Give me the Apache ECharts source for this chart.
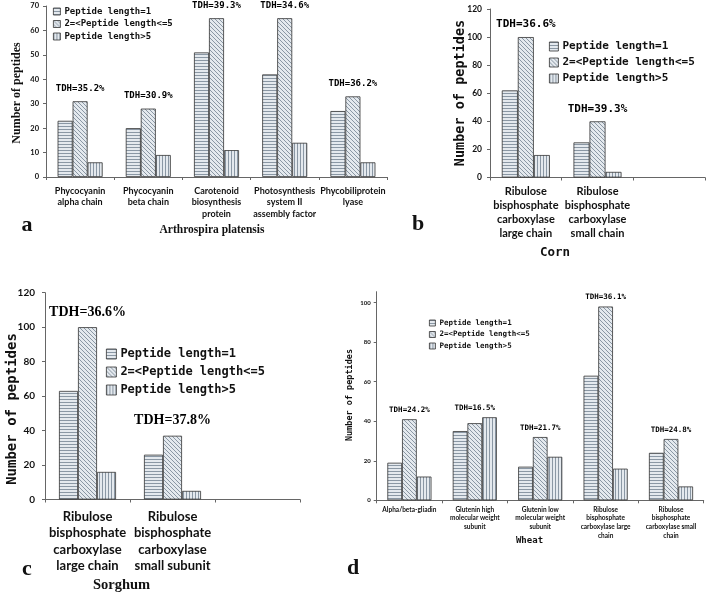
<!DOCTYPE html>
<html><head><meta charset="utf-8">
<script src="https://cdn.jsdelivr.net/npm/echarts@6/dist/echarts.min.js"></script>
<style>html,body{margin:0;padding:0;background:#fff}#c{width:708px;height:596px}</style>
</head><body><div id="c"></div><script>
// ---------- data ----------
const seriesNames = ['Peptide length=1', '2=<Peptide length<=5', 'Peptide length>5'];

const catsA = ['Phycocyanin\nalpha chain', 'Phycocyanin\nbeta chain', 'Carotenoid\nbiosynthesis\nprotein', 'Photosynthesis\nsystem II\nassembly factor', 'Phycobiliprotein\nlyase'];
const a1 = [23, 20, 51, 42, 27];
const a2 = [31, 28, 65, 65, 33];
const a3 = [6, 9, 11, 14, 6];
const tdhA = ['TDH=35.2%', 'TDH=30.9%', 'TDH=39.3%', 'TDH=34.6%', 'TDH=36.2%'];
const ticksA = [0, 10, 20, 30, 40, 50, 60, 70];

const catsB = ['Ribulose\nbisphosphate\ncarboxylase\nlarge chain', 'Ribulose\nbisphosphate\ncarboxylase\nsmall chain', ''];
const b1 = [62, 25];
const b2 = [100, 40];
const b3 = [16, 4];
const tdhB = ['TDH=36.6%', 'TDH=39.3%'];
const ticksB = [0, 20, 40, 60, 80, 100, 120];

const catsC = ['Ribulose\nbisphosphate\ncarboxylase\nlarge chain', 'Ribulose\nbisphosphate\ncarboxylase\nsmall subunit', ''];
const c1 = [63, 26];
const c2 = [100, 37];
const c3 = [16, 5];
const tdhC = ['TDH=36.6%', 'TDH=37.8%'];
const ticksC = [0, 20, 40, 60, 80, 100, 120];

const catsD = ['Alpha/beta-gliadin', 'Glutenin high\nmolecular weight\nsubunit', 'Glutenin low\nmolecular weight\nsubunit', 'Ribulose\nbisphosphate\ncarboxylase large\nchain', 'Ribulose\nbisphosphate\ncarboxylase small\nchain'];
const d1 = [19, 35, 17, 63, 24];
const d2 = [41, 39, 32, 98, 31];
const d3 = [12, 42, 22, 16, 7];
const tdhD = ['TDH=24.2%', 'TDH=16.5%', 'TDH=21.7%', 'TDH=36.1%', 'TDH=24.8%'];
const ticksD = [0, 20, 40, 60, 80, 100];

// ---------- patterns ----------
const BG = '#e4e9ee', FG = '#8a97a4';
function pat(type) {
  const s = type === 'd' ? 4 : 3;
  const cv = document.createElement('canvas');
  cv.width = s; cv.height = s;
  const g = cv.getContext('2d');
  g.fillStyle = BG; g.fillRect(0, 0, s, s);
  g.fillStyle = FG;
  if (type === 'h') g.fillRect(0, 0, s, 1);
  else if (type === 'v') g.fillRect(0, 0, 1, s);
  else for (let i = 0; i < s; i++) g.fillRect(i, i, 1, 1);
  return { image: cv, repeat: 'repeat' };
}
const pats = [pat('h'), pat('d'), pat('v')];

const MONO = 'DejaVu Sans Mono';
const SERIF = 'Liberation Serif';
const SANS = 'Lato';
const AX = '#666';

const panels = [
  { cats: catsA, vals: [a1, a2, a3], tdh: tdhA, ticks: ticksA, max: 70,
    grid: { left: 46, top: 6, width: 341, height: 171 }, bw: 15,
    ytick: { size: 7.5, margin: 7 }, xlab: { size: 9, lh: 11.7, margin: 8 },
    tdhFont: { f: MONO, s: 9, d: 8 },
    legend: { left: 53, top: 7, s: 9, iw: 7, ih: 7, gap: 3.5 } },
  { cats: catsB, vals: [b1, b2, b3], tdh: tdhB, ticks: ticksB, max: 120,
    grid: { left: 490, top: 9, width: 215, height: 168.5 }, bw: 16,
    ytick: { size: 8.5, margin: 8 }, xlab: { size: 11, lh: 14, margin: 7 },
    tdhFont: { f: MONO, s: 11, d: 7 },
    legend: { left: 549, top: 41, s: 11, iw: 9, ih: 9, gap: 5 } },
  { cats: catsC, vals: [c1, c2, c3], tdh: tdhC, ticks: ticksC, max: 120,
    grid: { left: 45, top: 292.7, width: 255, height: 206.8 }, bw: 19,
    ytick: { size: 10, margin: 10 }, xlab: { size: 13, lh: 16.5, margin: 9 },
    tdhFont: { f: SERIF, s: 14, d: 8 },
    legend: { left: 106, top: 348, s: 12, iw: 10, ih: 10, gap: 6 } },
  { cats: catsD, vals: [d1, d2, d3], tdh: tdhD, ticks: ticksD, max: 105.5,
    grid: { left: 376.7, top: 291.7, width: 327, height: 208.6 }, bw: 14.7,
    ytick: { size: 6, margin: 6 }, xlab: { size: 6.5, lh: 8.7, margin: 5 },
    tdhFont: { f: MONO, s: 7.5, d: 5 },
    legend: { left: 429, top: 319, s: 7.5, iw: 6, ih: 6, gap: 3.5 } }
];

const grids = [], xAxes = [], yAxes = [], series = [], legends = [];
panels.forEach((p, k) => {
  grids.push(Object.assign({ containLabel: false }, p.grid));
  xAxes.push({
    type: 'category', gridIndex: k, data: p.cats,
    axisLine: { lineStyle: { color: AX, width: 1 } },
    axisTick: { show: true, alignWithLabel: false, length: 3, lineStyle: { color: AX } },
    axisLabel: { interval: 0, margin: p.xlab.margin, fontFamily: SANS, fontWeight: 'bold', fontSize: p.xlab.size, lineHeight: p.xlab.lh, color: '#111' }
  });
  yAxes.push({
    type: 'value', gridIndex: k, min: 0, max: p.max, interval: p.ticks[1] - p.ticks[0],
    splitLine: { show: false },
    axisLine: { show: true, lineStyle: { color: AX, width: 1 } },
    axisTick: { show: true, length: 3, lineStyle: { color: AX }, customValues: p.ticks },
    axisLabel: { margin: p.ytick.margin, fontFamily: SANS, fontWeight: 'bold', fontSize: p.ytick.size, color: '#111', customValues: p.ticks }
  });
  p.vals.forEach((v, j) => {
    series.push({
      type: 'bar', name: seriesNames[j], xAxisIndex: k, yAxisIndex: k, data: v,
      barWidth: p.bw, barGap: '0%',
      itemStyle: { color: pats[j], borderColor: '#333', borderWidth: 0.8 },
      emphasis: { disabled: true }, animation: false
    });
  });
  series.push({
    type: 'scatter', xAxisIndex: k, yAxisIndex: k, symbolSize: 0,
    itemStyle: { opacity: 1 },
    data: p.tdh.map((t, i) => [i, Math.max(p.vals[0][i], p.vals[1][i], p.vals[2][i])]),
    label: { show: true, position: 'top', distance: p.tdhFont.d,
      formatter: (q) => p.tdh[q.dataIndex],
      fontFamily: p.tdhFont.f, fontWeight: 'bold', fontSize: p.tdhFont.s, color: '#000', opacity: 1 },
    emphasis: { disabled: true },
    silent: true, animation: false
  });
  legends.push({
    data: seriesNames, orient: 'vertical', left: p.legend.left, top: p.legend.top,
    icon: 'rect', itemWidth: p.legend.iw, itemHeight: p.legend.ih, itemGap: p.legend.gap,
    selectedMode: false, padding: 0,
    itemStyle: { borderColor: '#333', borderWidth: 0.8 },
    textStyle: { fontFamily: MONO, fontWeight: 'bold', fontSize: p.legend.s, color: '#111', padding: [0, 0, 0, -1] }
  });
});

function txt(x, y, text, font, size, rot, extra) {
  return Object.assign({
    type: 'text', x: x, y: y, rotation: rot ? Math.PI / 2 : 0,
    style: { text: text, font: 'bold ' + size + 'px "' + font + '"', fill: '#111', align: 'center', verticalAlign: 'middle' }
  }, extra || {});
}

const graphics = [
  txt(27, 225, 'a', SERIF, 22),
  txt(212, 230, 'Arthrospira platensis', SERIF, 11.5),
  txt(17, 93, 'Number of peptides', SERIF, 12, true),
  txt(418, 224, 'b', SERIF, 22),
  txt(555, 253, 'Corn', MONO, 12.5),
  txt(460, 93, 'Number of peptides', MONO, 13.5, true),
  txt(27, 569, 'c', SERIF, 22),
  txt(121.5, 585, 'Sorghum', SERIF, 14.5),
  txt(12, 409, 'Number of peptides', MONO, 14, true),
  txt(353, 568, 'd', SERIF, 22),
  txt(529.5, 541, 'Wheat', MONO, 9),
  txt(350, 395, 'Number of peptides', MONO, 8.5, true)
];

const chart = echarts.init(document.getElementById('c'), null, { renderer: 'canvas' });
chart.setOption({
  backgroundColor: '#fff', animation: false,
  grid: grids, xAxis: xAxes, yAxis: yAxes, series: series, legend: legends,
  graphic: graphics
});
</script></body></html>
